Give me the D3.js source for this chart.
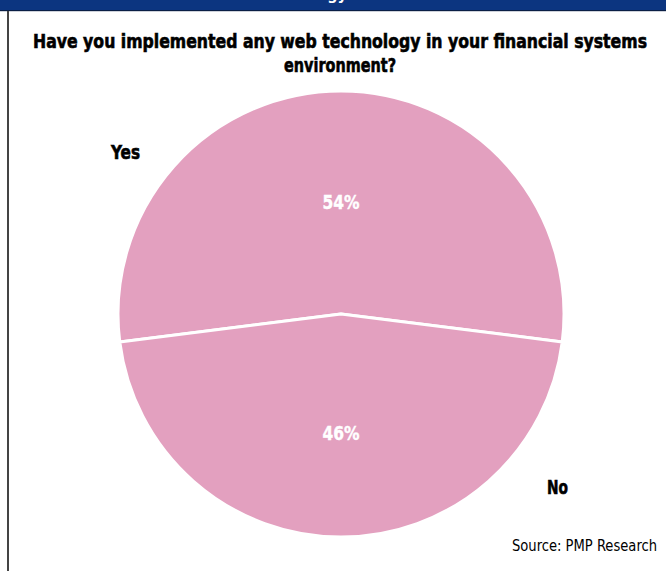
<!DOCTYPE html>
<html>
<head>
<meta charset="utf-8">
<script src="https://cdn.jsdelivr.net/npm/d3@7"></script>
<style>
  html, body { margin: 0; padding: 0; background: #fff; }
  svg { display: block; }
  .cond { font-family: "Liberation Sans Narrow", "DejaVu Sans Condensed", "Liberation Sans", sans-serif; }
</style>
</head>
<body>
<svg id="chart" width="666" height="571"></svg>
<script>
// Survey answers and their shares (percent)
const categories = ["Yes", "No"];
const shares = [54, 46];
const titleLines = [
  "Have you implemented any web technology in your financial systems",
  "environment?"
];
const bannerText = "Technology";
const sourceNote = "Source: PMP Research";

const W = 666, H = 571;
const svg = d3.select("#chart");

// Banner strip across the top and frame rule down the left side
svg.append("rect").attr("x", 0).attr("y", 0).attr("width", W).attr("height", 11).attr("fill", "#0c3580");
svg.append("text").attr("class", "cond")
  .attr("x", 347).attr("y", -0.5).attr("text-anchor", "end")
  .attr("fill", "#fff").attr("font-size", 16).attr("font-weight", "bold")
  .text(bannerText);
svg.append("rect").attr("x", 0).attr("y", 10).attr("width", W).attr("height", 1.2).attr("fill", "#0a1f45");
svg.append("rect").attr("x", 7).attr("y", 11).attr("width", 2).attr("height", H - 11).attr("fill", "#444");

// Title (heavy condensed look: bold plus a thin matching stroke)
const title = svg.append("text").attr("class", "cond")
  .attr("text-anchor", "middle").attr("font-weight", "bold")
  .attr("font-size", 20).attr("fill", "#000")
  .attr("stroke", "#000").attr("stroke-width", 0.6);
title.append("tspan").attr("x", 340).attr("y", 48)
  .attr("textLength", 614).attr("lengthAdjust", "spacingAndGlyphs")
  .text(titleLines[0]);
title.append("tspan").attr("x", 340).attr("y", 72)
  .attr("textLength", 112).attr("lengthAdjust", "spacingAndGlyphs")
  .text(titleLines[1]);

// Pie
const cx = 341, cy = 314, R = 223;
const data = categories.map((c, i) => ({ label: c, value: shares[i] }));
const startA = -Math.PI * shares[0] / 100;
const pie = d3.pie().value(d => d.value).sort(null)
  .startAngle(startA).endAngle(startA + 2 * Math.PI);
const arc = d3.arc().innerRadius(0).outerRadius(R);
const color = d3.scaleOrdinal().domain(categories).range(["#e3a0bf", "#e3a0bf"]);

const g = svg.append("g").attr("transform", `translate(${cx},${cy})`);
const arcs = pie(data);
g.selectAll("path").data(arcs).join("path")
  .attr("d", arc)
  .attr("fill", d => color(d.data.label))
  .attr("stroke", "#fff").attr("stroke-width", 3).attr("stroke-linejoin", "round");

// Percentage labels inside slices
const inner = d3.arc().innerRadius(0).outerRadius(R * 0.98);
g.selectAll("text.pct").data(arcs).join("text")
  .attr("class", "pct cond")
  .attr("x", d => inner.centroid(d)[0])
  .attr("y", d => d.data.label === "Yes" ? 209 - cy : 440 - cy)
  .attr("text-anchor", "middle")
  .attr("fill", "#fff").attr("stroke", "#fff").attr("stroke-width", 0.4)
  .attr("font-weight", "bold").attr("font-size", 19)
  .attr("textLength", 37).attr("lengthAdjust", "spacingAndGlyphs")
  .text(d => d.data.value + "%");

// Category labels outside the pie
const outerPos = { Yes: [111, 159, 29], No: [547, 494, 21] };
svg.selectAll("text.cat").data(categories).join("text")
  .attr("class", "cat cond")
  .attr("x", d => outerPos[d][0]).attr("y", d => outerPos[d][1])
  .attr("textLength", d => outerPos[d][2]).attr("lengthAdjust", "spacingAndGlyphs")
  .attr("font-weight", "bold").attr("font-size", 20)
  .attr("fill", "#000").attr("stroke", "#000").attr("stroke-width", 0.6)
  .text(d => d);

// Source note
svg.append("text").attr("class", "cond")
  .attr("x", 657).attr("y", 551).attr("text-anchor", "end")
  .attr("font-size", 16).attr("fill", "#000")
  .attr("textLength", 145).attr("lengthAdjust", "spacingAndGlyphs")
  .text(sourceNote);
</script>
</body>
</html>
